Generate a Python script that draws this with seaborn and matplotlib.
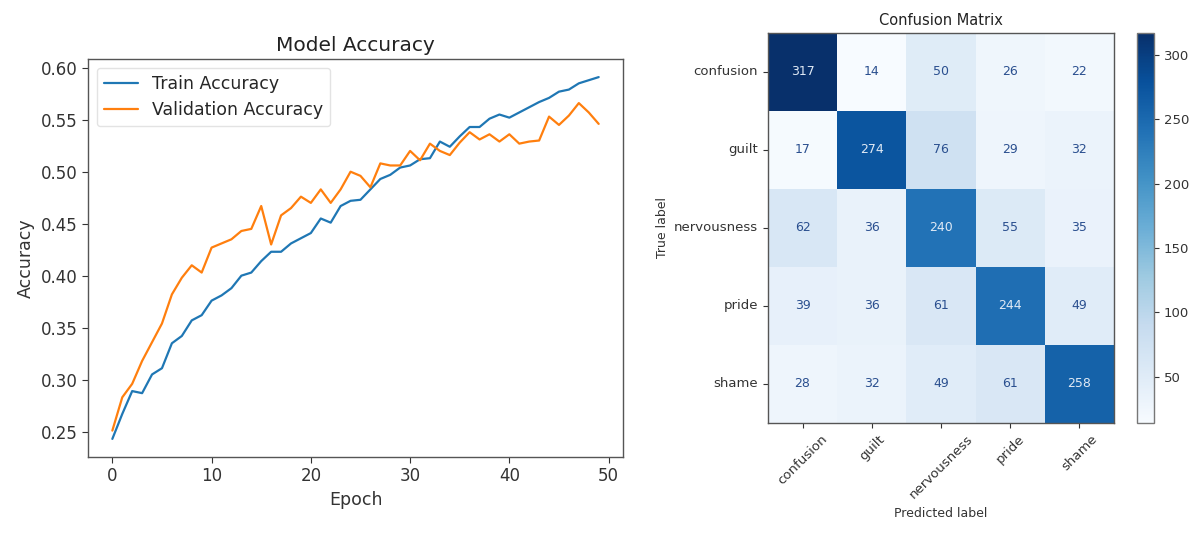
import numpy as np
import pandas as pd
import matplotlib
matplotlib.use("Agg")
import matplotlib.pyplot as plt
import seaborn as sns

# Training history (50 epochs)
epochs = list(range(50))
train_acc = [0.243, 0.267, 0.289, 0.287, 0.305, 0.311, 0.335, 0.342, 0.357, 0.362,
             0.376, 0.381, 0.388, 0.400, 0.403, 0.414, 0.423, 0.423, 0.431, 0.436,
             0.441, 0.455, 0.451, 0.467, 0.472, 0.473, 0.483, 0.493, 0.497, 0.504,
             0.506, 0.512, 0.513, 0.529, 0.524, 0.534, 0.543, 0.543, 0.551, 0.555,
             0.552, 0.557, 0.562, 0.567, 0.571, 0.577, 0.579, 0.585, 0.588, 0.591]
val_acc = [0.251, 0.283, 0.296, 0.318, 0.336, 0.354, 0.382, 0.398, 0.410, 0.403,
           0.427, 0.431, 0.435, 0.443, 0.445, 0.467, 0.430, 0.458, 0.465, 0.476,
           0.470, 0.483, 0.470, 0.483, 0.500, 0.496, 0.485, 0.508, 0.506, 0.506,
           0.520, 0.511, 0.527, 0.520, 0.516, 0.528, 0.538, 0.531, 0.536, 0.529,
           0.536, 0.527, 0.529, 0.530, 0.553, 0.545, 0.554, 0.566, 0.557, 0.546]

# Confusion matrix (rows: true label, columns: predicted label)
class_names = ["confusion", "guilt", "nervousness", "pride", "shame"]
cm_values = [
    [317, 14, 50, 26, 22],
    [17, 274, 76, 29, 32],
    [62, 36, 240, 55, 35],
    [39, 36, 61, 244, 49],
    [28, 32, 49, 61, 258],
]

sns.set_style("ticks")
plt.rcParams["font.family"] = ["DejaVu Sans"]

fig = plt.figure(figsize=(11.96, 5.34), dpi=100)

# ---- Accuracy curves ----
ax1 = fig.add_axes([0.0736, 0.1442, 0.4473, 0.7453])
sns.lineplot(x=epochs, y=train_acc, ax=ax1, color="#1f77b4", linewidth=1.6,
             label="Train Accuracy")
sns.lineplot(x=epochs, y=val_acc, ax=ax1, color="#ff7f0e", linewidth=1.6,
             label="Validation Accuracy")
ax1.set_title("Model Accuracy", fontsize=14.5, color="#222222")
ax1.set_xlabel("Epoch", fontsize=12.5, color="#333333")
ax1.set_ylabel("Accuracy", fontsize=12.5, color="#333333")
ax1.set_xticks([0, 10, 20, 30, 40, 50])
ax1.set_yticks([0.25, 0.30, 0.35, 0.40, 0.45, 0.50, 0.55, 0.60])
ax1.tick_params(labelsize=12, colors="#333333", length=4)
for s in ax1.spines.values():
    s.set_color("#555555")
    s.set_linewidth(1.0)
ax1.legend(loc="upper left", fontsize=12.5, frameon=True, edgecolor="#dddddd")

# ---- Confusion matrix ----
ax2 = fig.add_axes([0.6421, 0.2079, 0.2893, 0.7303])
cax = fig.add_axes([0.9507, 0.2079, 0.0142, 0.7303])
cm_df = pd.DataFrame(cm_values, index=class_names, columns=class_names)
cmap = plt.get_cmap("Blues")
sns.heatmap(cm_df, ax=ax2, cbar_ax=cax, cmap=cmap, annot=True, fmt="d",
            annot_kws={"fontsize": 9}, square=False)
vmin, vmax = cm_df.values.min(), cm_df.values.max()
thresh = (vmin + vmax) / 2
for txt in ax2.texts:
    v = int(txt.get_text())
    txt.set_color("#dfe9f5" if v > thresh else "#2a4f8f")

ax2.set_title("Confusion Matrix", fontsize=10.5, color="#222222")
ax2.set_xlabel("Predicted label", fontsize=9, color="#333333")
ax2.set_ylabel("True label", fontsize=9, color="#333333")
ax2.tick_params(axis="both", length=3.5, labelsize=9.5, colors="#333333")
plt.setp(ax2.get_xticklabels(), rotation=45, ha="center")
plt.setp(ax2.get_yticklabels(), rotation=0)
for s in ax2.spines.values():
    s.set_visible(True)
    s.set_color("#555555")
    s.set_linewidth(1.0)

cbar = ax2.collections[0].colorbar
cbar.set_ticks([50, 100, 150, 200, 250, 300])
cbar.ax.tick_params(labelsize=9.5, colors="#333333", length=3.5)
cbar.outline.set_visible(True)
cbar.outline.set_edgecolor("#777777")
cbar.outline.set_linewidth(1.0)

fig.savefig("out.png", dpi=100)
